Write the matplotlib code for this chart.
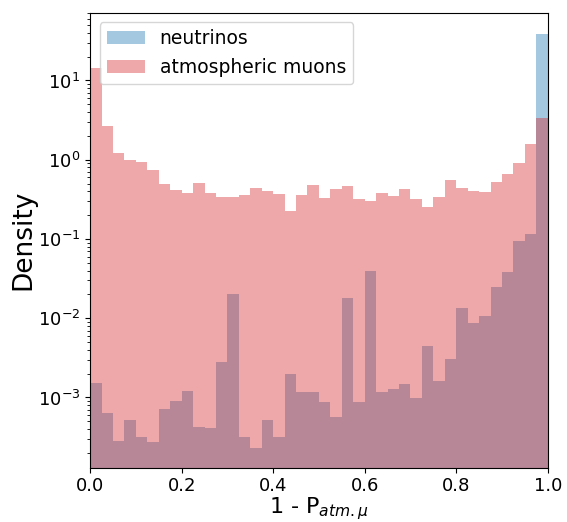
import numpy as np
import matplotlib.pyplot as plt

# 40 equal-width bins on [0, 1]
bin_edges = np.linspace(0, 1, 41)

# densities, one per bin
neutrinos = [
    1.53e-3, 6.4e-4, 2.83e-4, 5.2e-4, 3.2e-4, 2.75e-4, 7.2e-4, 9.1e-4,
    1.22e-3, 4.3e-4, 4.1e-4, 2.83e-3, 2.0e-2, 3.2e-4, 2.3e-4, 5.2e-4,
    3.2e-4, 2.0e-3, 1.18e-3, 1.18e-3, 8.8e-4, 5.7e-4, 1.78e-2, 8.8e-4,
    4.0e-2, 1.18e-3, 1.29e-3, 1.49e-3, 9.9e-4, 4.5e-3, 1.63e-3, 3.1e-3,
    1.36e-2, 8.8e-3, 1.08e-2, 2.45e-2, 3.8e-2, 9.3e-2, 0.115, 39.0,
]
muons = [
    14.3, 2.7, 1.23, 1.0, 0.94, 0.75, 0.50, 0.42,
    0.38, 0.51, 0.38, 0.34, 0.34, 0.36, 0.44, 0.40,
    0.37, 0.226, 0.36, 0.48, 0.33, 0.43, 0.47, 0.32,
    0.30, 0.38, 0.35, 0.43, 0.32, 0.255, 0.34, 0.56,
    0.44, 0.40, 0.39, 0.53, 0.67, 0.92, 1.59, 3.4,
]

fig, ax = plt.subplots(figsize=(5.67, 5.22), dpi=100)
fig.subplots_adjust(left=0.159, right=0.966, top=0.976, bottom=0.104)

ax.hist(bin_edges[:-1], bins=bin_edges, weights=neutrinos,
        color="tab:blue", alpha=0.4, label="neutrinos")
ax.hist(bin_edges[:-1], bins=bin_edges, weights=muons,
        color="tab:red", alpha=0.4, label="atmospheric muons")

ax.set_yscale("log")
ax.set_xlim(0, 1)
ax.set_ylim(1.3e-4, 72)

ax.set_xlabel(r"1 - P$_{atm.\mu}$", fontsize=16, labelpad=0)
ax.set_ylabel("Density", fontsize=19, labelpad=1)
ax.tick_params(axis="both", which="major", labelsize=13)
ax.legend(loc="upper left", fontsize=13.5)

fig.savefig("out.png")
